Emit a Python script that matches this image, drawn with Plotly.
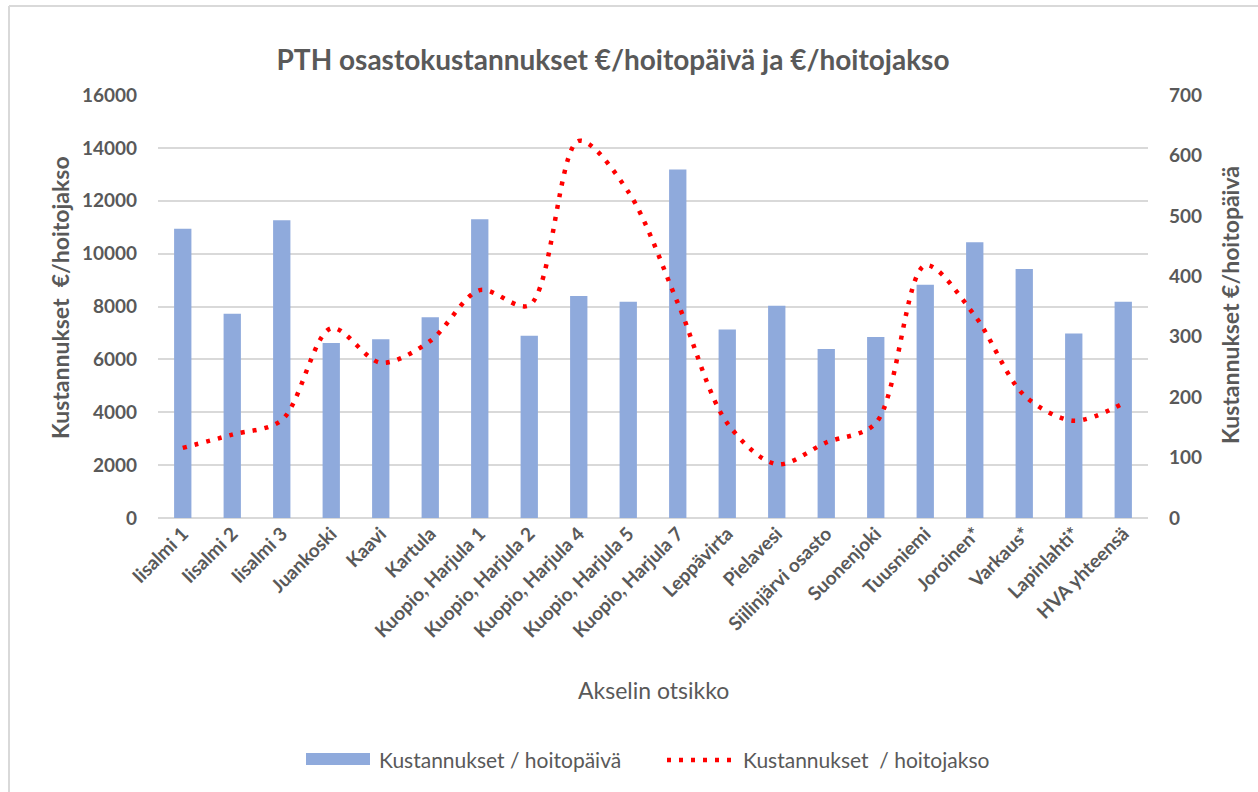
import plotly.graph_objects as go

categories = ["Iisalmi 1", "Iisalmi 2", "Iisalmi 3", "Juankoski", "Kaavi", "Kartula",
              "Kuopio, Harjula 1", "Kuopio, Harjula 2", "Kuopio, Harjula 4", "Kuopio, Harjula 5",
              "Kuopio, Harjula 7", "Leppävirta", "Pielavesi", "Siilinjärvi osasto", "Suonenjoki",
              "Tuusniemi", "Joroinen*", "Varkaus*", "Lapinlahti*", "HVA yhteensä"]
bar_values = [10940, 7730, 11260, 6620, 6760, 7590, 11300, 6890, 8400, 8180,
              13180, 7130, 8030, 6390, 6850, 8820, 10430, 9420, 6980, 8180]
line_values = [116, 138, 162, 314, 257, 293, 377, 352, 624, 540,
               356, 157, 89, 125, 157, 418, 335, 203, 161, 190]
left_ticks = [0, 2000, 4000, 6000, 8000, 10000, 12000, 14000, 16000]
right_ticks = [0, 100, 200, 300, 400, 500, 600, 700]
bar_name = "Kustannukset / hoitopäivä"
line_name = "Kustannukset  / hoitojakso"

W, H = 1258, 792
L, R, T, B = 158, 1148, 95, 518
FONT = "Lato"
GREY = "#595959"
BAR_COLOR = "#8FAADC"
LINE_COLOR = "#FF0000"
LINE_DASH = "4px,8px"


def px(p):
    return (p - L) / (R - L)


def py(p):
    return (B - p) / (B - T)


fig = go.Figure()
fig.add_trace(go.Bar(
    x=categories, y=bar_values, name=bar_name,
    marker=dict(color=BAR_COLOR, line=dict(width=0)), width=0.35, yaxis="y",
    showlegend=False))
fig.add_trace(go.Scatter(
    x=categories, y=line_values, name=line_name, mode="lines",
    line=dict(color=LINE_COLOR, width=4.5, dash=LINE_DASH, shape="spline", smoothing=0.9),
    yaxis="y2", showlegend=False))

tick_font = dict(family=FONT, size=19, color=GREY, weight="bold")
fig.update_layout(
    width=W, height=H,
    margin=dict(l=L, r=W - R, t=T, b=H - B, pad=0),
    paper_bgcolor="white", plot_bgcolor="white",
    font=dict(family=FONT, color=GREY),
    title=dict(text="<b>PTH osastokustannukset €/hoitopäivä ja €/hoitojakso</b>",
               x=613 / W, xanchor="center", xref="container",
               y=1 - 60 / H, yanchor="middle",
               font=dict(family=FONT, size=28, color=GREY)),
    xaxis=dict(type="category", tickangle=-45, showgrid=False, showline=False,
               ticks="", tickfont=tick_font, range=[-0.5, 19.5]),
    yaxis=dict(range=[0, 16000], tickvals=left_ticks, tickformat="d",
               showgrid=True, gridcolor="#D9D9D9", gridwidth=2,
               zeroline=True, zerolinecolor="#D9D9D9", zerolinewidth=2,
               ticks="", ticklabelstandoff=20, tickfont=tick_font),
    yaxis2=dict(range=[0, 700], tickvals=right_ticks, overlaying="y", side="right",
                showgrid=False, zeroline=False, ticks="", ticklabelstandoff=20,
                tickfont=tick_font),
    showlegend=False,
)

# axis titles
fig.add_annotation(text="Akselin otsikko", xref="paper", yref="paper",
                   x=px(653), y=py(690), xanchor="center", yanchor="middle",
                   showarrow=False, font=dict(family=FONT, size=23, color=GREY))
fig.add_annotation(text="<b>Kustannukset  €/hoitojakso</b>", xref="paper", yref="paper",
                   x=px(60), y=py(298), xanchor="center", yanchor="middle", textangle=-90,
                   showarrow=False, font=dict(family=FONT, size=23, color=GREY))
fig.add_annotation(text="<b>Kustannukset €/hoitopäivä</b>", xref="paper", yref="paper",
                   x=px(1230), y=py(305), xanchor="center", yanchor="middle", textangle=-90,
                   showarrow=False, font=dict(family=FONT, size=23, color=GREY))

# legend (drawn to match the original layout)
fig.add_shape(type="rect", xref="paper", yref="paper", x0=px(306), x1=px(370),
              y0=py(753), y1=py(765), fillcolor=BAR_COLOR, line=dict(width=0))
fig.add_annotation(text=bar_name, xref="paper", yref="paper", x=px(377), y=py(759),
                   xanchor="left", yanchor="middle", showarrow=False,
                   font=dict(family=FONT, size=21, color=GREY))
fig.add_shape(type="line", xref="paper", yref="paper", x0=px(667), x1=px(738),
              y0=py(760), y1=py(760), line=dict(color=LINE_COLOR, width=4.5, dash=LINE_DASH))
fig.add_annotation(text=line_name, xref="paper", yref="paper", x=px(741), y=py(759),
                   xanchor="left", yanchor="middle", showarrow=False,
                   font=dict(family=FONT, size=21, color=GREY))

# chart area border (top and left edges visible)
fig.add_shape(type="line", xref="paper", yref="paper", x0=px(9), x1=px(W + 5),
              y0=py(6), y1=py(6), line=dict(color="#D9D9D9", width=2))
fig.add_shape(type="line", xref="paper", yref="paper", x0=px(9), x1=px(9),
              y0=py(6), y1=py(H + 5), line=dict(color="#D9D9D9", width=2))

fig.write_html("out.html", config={"displayModeBar": False},
               post_script="document.body.style.margin='0px';")
